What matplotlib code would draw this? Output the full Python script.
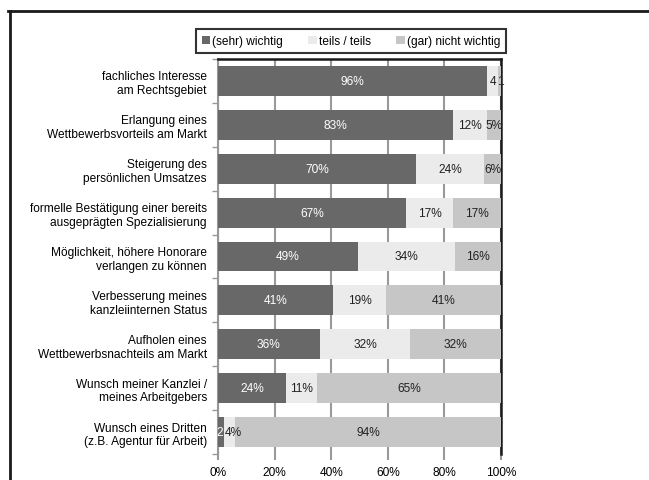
import matplotlib
matplotlib.use("Agg")
import matplotlib.pyplot as plt
import numpy as np
from matplotlib.lines import Line2D

plt.rcParams['font.family'] = ['Liberation Sans', 'DejaVu Sans']

categories = [
    "fachliches Interesse\nam Rechtsgebiet",
    "Erlangung eines\nWettbewerbsvorteils am Markt",
    "Steigerung des\npersönlichen Umsatzes",
    "formelle Bestätigung einer bereits\nausgeprägten Spezialisierung",
    "Möglichkeit, höhere Honorare\nverlangen zu können",
    "Verbesserung meines\nkanzleiinternen Status",
    "Aufholen eines\nWettbewerbsnachteils am Markt",
    "Wunsch meiner Kanzlei /\nmeines Arbeitgebers",
    "Wunsch eines Dritten\n(z.B. Agentur für Arbeit)",
]
sehr_wichtig = [96, 83, 70, 67, 49, 41, 36, 24, 2]
teils = [4, 12, 24, 17, 34, 19, 32, 11, 4]
nicht_wichtig = [1, 5, 6, 17, 16, 41, 32, 65, 94]
# data labels as printed in the chart (small ones without %)
labels_sehr = ["96%", "83%", "70%", "67%", "49%", "41%", "36%", "24%", "2"]
labels_teils = ["4", "12%", "24%", "17%", "34%", "19%", "32%", "11%", "4%"]
labels_nicht = ["1", "5%", "6%", "17%", "16%", "41%", "32%", "65%", "94%"]
series_names = ["(sehr) wichtig", "teils / teils", "(gar) nicht wichtig"]
colors = ["#686868", "#ebebeb", "#c6c6c6"]
text_colors = ["white", "#222222", "#222222"]
fs = 8.6

fig = plt.figure(figsize=(6.49, 4.81), dpi=100)
ax = fig.add_axes([218 / 649, 1 - 455 / 481, 283 / 649, 395 / 481])

data = np.array([sehr_wichtig, teils, nicht_wichtig], dtype=float)
data = data / data.sum(axis=0) * 100  # 100% stacked
labels = [labels_sehr, labels_teils, labels_nicht]

y = np.arange(len(categories))
left = np.zeros(len(categories))
for i in range(3):
    ax.barh(y, data[i], left=left, height=0.68, color=colors[i],
            label=series_names[i], zorder=3)
    for j in range(len(categories)):
        xpos = left[j] + data[i][j] / 2
        if data[i][j] < 3 and i == 0:
            xpos = left[j] + data[i][j] / 2 - 0.3
        if labels[i][j] == "4%" and j == len(categories) - 1:
            xpos += 1.5
        if labels[i][j] == "1" and j == 0:
            xpos += 0.4
        ax.text(xpos, y[j], labels[i][j], ha="center",
                va="center", fontsize=fs, color=text_colors[i], zorder=4)
    left += data[i]

ax.set_ylim(len(categories) - 0.5, -0.5)
ax.set_xlim(0, 100)
ax.set_xticks(range(0, 101, 20))
ax.set_xticklabels([f"{v}%" for v in range(0, 101, 20)], fontsize=fs)
ax.set_yticks(y)
ax.set_yticklabels(categories, fontsize=fs, ha="right")
ax.set_yticks(np.arange(-0.5, len(categories), 1), minor=True)
ax.tick_params(axis="y", which="major", length=0, pad=8)
ax.tick_params(axis="y", which="minor", length=4, color="#999999", width=1)
ax.tick_params(axis="x", length=4, color="#999999", width=1.5, pad=5)
ax.grid(axis="x", color="#999999", linewidth=1.5, zorder=0)
ax.spines["bottom"].set_visible(False)
ax.spines["left"].set_color("#999999")
ax.spines["left"].set_linewidth(1.5)
ax.spines["top"].set_color("#1a1a1a")
ax.spines["top"].set_linewidth(1.8)
ax.spines["right"].set_color("#1a1a1a")
ax.spines["right"].set_linewidth(1.8)

leg = ax.legend(loc="lower center", bbox_to_anchor=(0.47, 1.0), ncol=3,
                fontsize=fs, frameon=True, fancybox=False, handlelength=0.7,
                handleheight=0.7, handletextpad=0.2, columnspacing=2.1,
                borderpad=0.5)
leg.get_frame().set_edgecolor("black")
leg.get_frame().set_linewidth(1.5)

# outer frame lines
fig.add_artist(Line2D([8 / 649, 1], [1 - 12 / 481] * 2, color="#1a1a1a", lw=2))
fig.add_artist(Line2D([10 / 649] * 2, [0, 1 - 12 / 481], color="#1a1a1a", lw=2))

fig.savefig("out.png", dpi=100)
